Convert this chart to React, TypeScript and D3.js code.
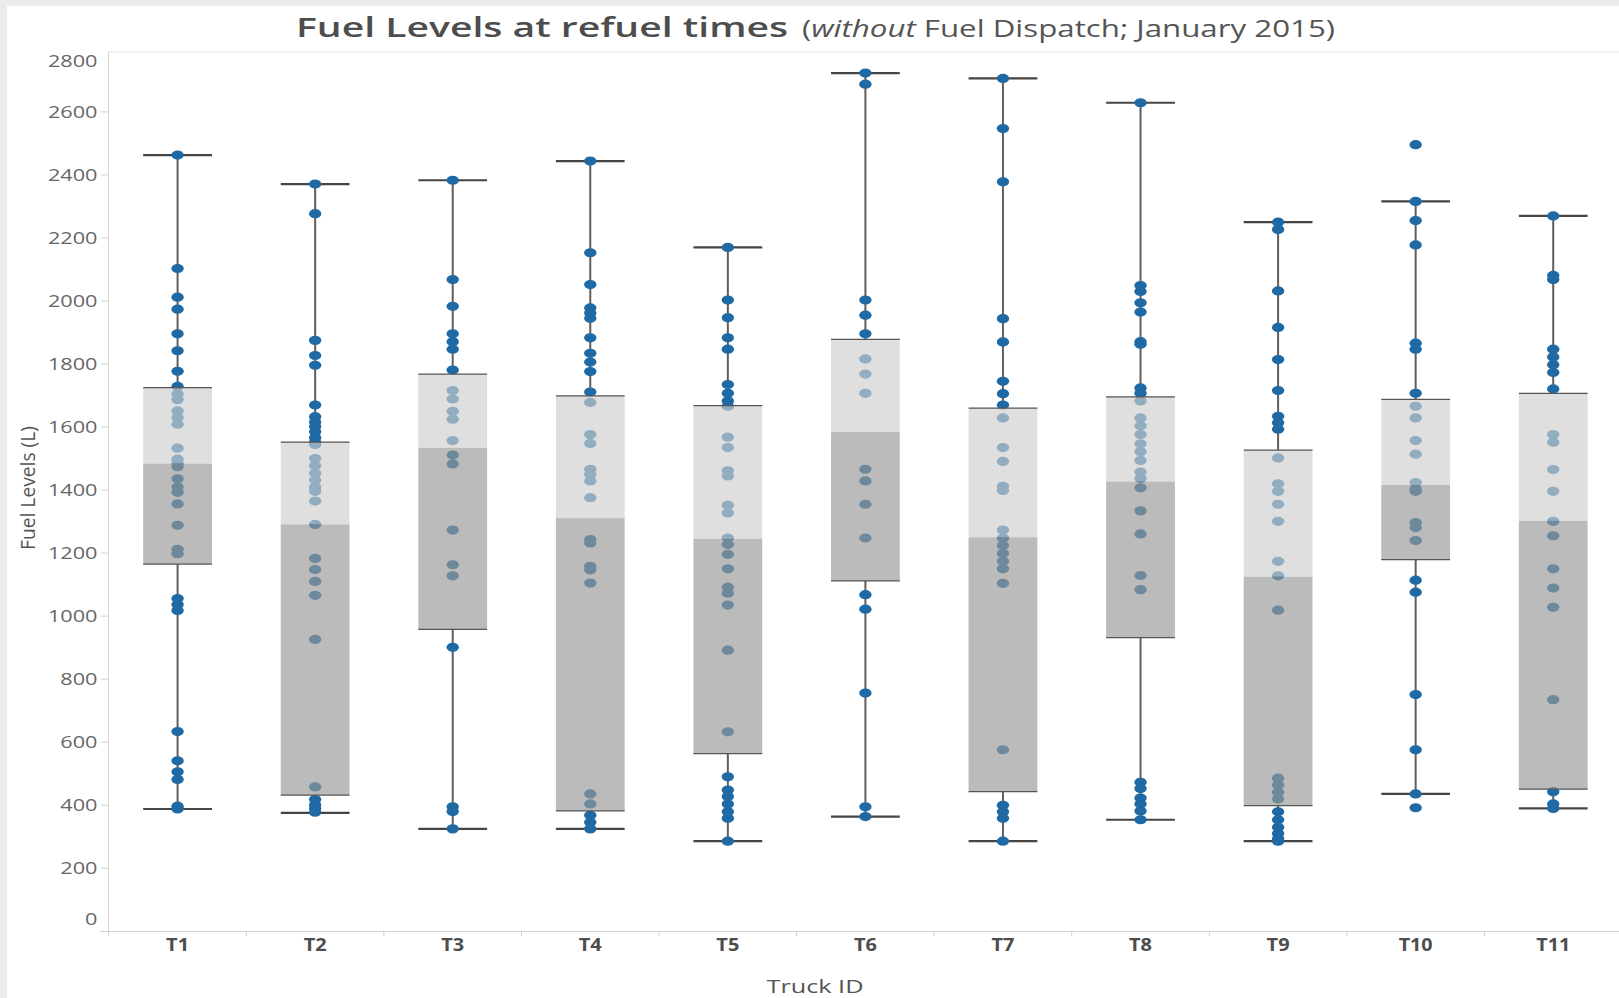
import { useEffect, useRef } from 'react';
import * as d3 from 'd3';

const trucks = ['T1', 'T2', 'T3', 'T4', 'T5', 'T6', 'T7', 'T8', 'T9', 'T10', 'T11'];

// box plot stats (litres)
const whiskerLow = [388, 376, 325, 325, 286, 364, 286, 354, 286, 436, 390];
const lowerQuartile = [1165, 432, 958, 382, 564, 1112, 443, 932, 399, 1179, 451];
const medians = [1484, 1291, 1534, 1311, 1245, 1584, 1250, 1427, 1125, 1416, 1302];
const upperQuartile = [1725, 1552, 1768, 1699, 1668, 1878, 1660, 1696, 1527, 1688, 1707];
const whiskerHigh = [2463, 2371, 2383, 2444, 2170, 2723, 2706, 2629, 2250, 2316, 2270];

// fuel level at each refuel, per truck
const levelsT1 = [2463, 2103, 2012, 1974, 1896, 1842, 1777, 1729, 1705, 1687, 1651, 1630, 1609, 1533, 1498, 1484, 1474, 1436, 1410, 1393, 1356, 1288, 1212, 1198, 1056, 1037, 1018, 634, 541, 506, 482, 397, 388];
const levelsT2 = [2371, 2277, 1875, 1827, 1796, 1670, 1633, 1616, 1602, 1585, 1566, 1552, 1545, 1500, 1477, 1453, 1432, 1410, 1396, 1365, 1291, 1183, 1148, 1110, 1066, 926, 458, 418, 401, 390, 378];
const levelsT3 = [2383, 2068, 1983, 1896, 1871, 1847, 1781, 1716, 1689, 1650, 1625, 1557, 1511, 1483, 1273, 1163, 1128, 901, 395, 380, 325];
const levelsT4 = [2444, 2153, 2052, 1978, 1962, 1945, 1883, 1834, 1806, 1776, 1711, 1678, 1576, 1548, 1466, 1450, 1429, 1376, 1243, 1232, 1158, 1147, 1105, 436, 404, 368, 346, 325];
const levelsT5 = [2170, 2003, 1947, 1883, 1847, 1735, 1707, 1683, 1666, 1568, 1535, 1461, 1445, 1352, 1327, 1248, 1227, 1196, 1150, 1092, 1073, 1035, 892, 633, 490, 448, 428, 404, 379, 359, 286];
const levelsT6 = [2723, 2688, 2003, 1955, 1896, 1816, 1768, 1707, 1466, 1429, 1355, 1248, 1068, 1022, 756, 395, 364];
const levelsT7 = [2706, 2547, 2378, 1944, 1870, 1745, 1706, 1670, 1629, 1535, 1491, 1412, 1399, 1273, 1248, 1224, 1199, 1174, 1150, 1104, 576, 400, 379, 359, 286];
const levelsT8 = [2629, 2049, 2030, 1994, 1965, 1871, 1863, 1724, 1707, 1683, 1629, 1604, 1576, 1547, 1522, 1494, 1457, 1437, 1407, 1334, 1261, 1129, 1084, 473, 453, 423, 404, 382, 354];
const levelsT9 = [2250, 2227, 2032, 1916, 1814, 1716, 1634, 1614, 1593, 1502, 1420, 1396, 1355, 1301, 1174, 1128, 1019, 486, 464, 441, 420, 379, 354, 330, 310, 294, 286];
const levelsT10 = [2496, 2316, 2255, 2178, 1866, 1847, 1707, 1666, 1629, 1557, 1514, 1424, 1404, 1396, 1297, 1281, 1240, 1114, 1076, 751, 576, 436, 392];
const levelsT11 = [2270, 2081, 2068, 1847, 1822, 1798, 1773, 1721, 1576, 1552, 1465, 1396, 1301, 1255, 1150, 1089, 1028, 735, 443, 404, 390];

const yTicks = [0, 200, 400, 600, 800, 1000, 1200, 1400, 1600, 1800, 2000, 2200, 2400, 2600, 2800];

const W = 1619;
const H = 998;
const FONT = "'Open Sans', 'DejaVu Sans', sans-serif";

export default function App() {
  const svgRef = useRef<SVGSVGElement>(null);

  useEffect(() => {
    const svg = d3.select(svgRef.current);
    svg.selectAll('*').remove();

    const levels = [levelsT1, levelsT2, levelsT3, levelsT4, levelsT5, levelsT6, levelsT7, levelsT8, levelsT9, levelsT10, levelsT11];
    const stats = trucks.map((t, i) => ({
      truck: t,
      lo: whiskerLow[i],
      q1: lowerQuartile[i],
      med: medians[i],
      q3: upperQuartile[i],
      hi: whiskerHigh[i],
    }));
    const points = trucks.flatMap((t, i) => levels[i].map(v => ({ truck: t, v })));

    const x = d3.scaleBand().domain(trucks).range([108.8, 1622]);
    const y = d3.scaleLinear().domain([0, 2790]).range([931.3, 52]);
    const bw = x.bandwidth();
    const boxW = bw * 0.5;
    const cx = (t: string) => (x(t) as number) + bw / 2;

    // outer frame
    svg.append('rect').attr('width', W).attr('height', H).attr('fill', '#ebebeb');
    svg.append('rect').attr('x', 7).attr('y', 6).attr('width', W - 7).attr('height', H - 6).attr('fill', '#fff');

    // title
    svg.append('text')
      .attr('x', 296).attr('y', 37)
      .attr('font-family', FONT).attr('font-size', 27).attr('font-weight', 600)
      .attr('fill', '#4d4d4d')
      .attr('textLength', 492).attr('lengthAdjust', 'spacingAndGlyphs')
      .text('Fuel Levels at refuel times');
    const sub = svg.append('text')
      .attr('x', 802).attr('y', 37)
      .attr('font-family', FONT).attr('font-size', 23)
      .attr('fill', '#555')
      .attr('textLength', 533).attr('lengthAdjust', 'spacingAndGlyphs');
    sub.append('tspan').text('(');
    sub.append('tspan').attr('font-style', 'italic').text('without');
    sub.append('tspan').text(' Fuel Dispatch; January 2015)');

    // plot frame lines
    svg.append('line').attr('x1', 108).attr('x2', W).attr('y1', 52).attr('y2', 52)
      .attr('stroke', '#e2e2e2').attr('stroke-width', 1);
    svg.append('line').attr('x1', 108.5).attr('x2', 108.5).attr('y1', 52).attr('y2', 931.5)
      .attr('stroke', '#d4d4d4').attr('stroke-width', 1);
    svg.append('line').attr('x1', 100).attr('x2', W).attr('y1', 931.5).attr('y2', 931.5)
      .attr('stroke', '#d4d4d4').attr('stroke-width', 1);

    // y ticks + labels
    svg.append('g').selectAll('line')
      .data(yTicks.filter(v => v > 0 && v < 2800))
      .join('line')
      .attr('x1', 101).attr('x2', 108)
      .attr('y1', d => y(d)).attr('y2', d => y(d))
      .attr('stroke', '#d0d0d0');
    svg.append('g').selectAll('text')
      .data(yTicks)
      .join('text')
      .attr('x', 97.5)
      .attr('y', d => y(d) + 6 + (d === 0 ? -12 : d === 2800 ? 12.4 : 0))
      .attr('text-anchor', 'end')
      .attr('font-family', FONT).attr('font-size', 17)
      .attr('fill', '#666')
      .attr('textLength', d => String(d).length * 12.4)
      .attr('lengthAdjust', 'spacingAndGlyphs')
      .text(d => d);

    // y axis title
    svg.append('text')
      .attr('transform', 'translate(35,488) rotate(-90)')
      .attr('text-anchor', 'middle')
      .attr('font-family', FONT).attr('font-size', 20)
      .attr('fill', '#555')
      .attr('textLength', 124).attr('lengthAdjust', 'spacingAndGlyphs')
      .text('Fuel Levels (L)');

    // x ticks at band edges + labels
    svg.append('g').selectAll('line')
      .data(trucks)
      .join('line')
      .attr('x1', d => x(d) as number).attr('x2', d => x(d) as number)
      .attr('y1', 931.5).attr('y2', 936)
      .attr('stroke', '#d0d0d0');
    svg.append('g').selectAll('text')
      .data(trucks)
      .join('text')
      .attr('x', d => cx(d))
      .attr('y', 951)
      .attr('text-anchor', 'middle')
      .attr('font-family', FONT).attr('font-size', 17).attr('font-weight', 'bold')
      .attr('fill', '#4d4d4d')
      .attr('textLength', d => (d.length > 2 ? 34 : 23))
      .attr('lengthAdjust', 'spacingAndGlyphs')
      .text(d => d);

    svg.append('text')
      .attr('x', 815).attr('y', 993)
      .attr('text-anchor', 'middle')
      .attr('font-family', FONT).attr('font-size', 19)
      .attr('fill', '#555')
      .attr('textLength', 97).attr('lengthAdjust', 'spacingAndGlyphs')
      .text('Truck ID');

    const g = svg.append('g');

    // whiskers
    g.selectAll('.whisker-hi')
      .data(stats)
      .join('line')
      .attr('x1', d => cx(d.truck)).attr('x2', d => cx(d.truck))
      .attr('y1', d => y(d.hi)).attr('y2', d => y(d.q3))
      .attr('stroke', '#5e5e5e').attr('stroke-width', 2);
    g.selectAll('.whisker-lo')
      .data(stats)
      .join('line')
      .attr('x1', d => cx(d.truck)).attr('x2', d => cx(d.truck))
      .attr('y1', d => y(d.q1)).attr('y2', d => y(d.lo))
      .attr('stroke', '#5e5e5e').attr('stroke-width', 2);
    ['hi', 'lo'].forEach(k => {
      g.append('g').selectAll('line')
        .data(stats)
        .join('line')
        .attr('x1', d => cx(d.truck) - boxW / 2).attr('x2', d => cx(d.truck) + boxW / 2)
        .attr('y1', d => y(d[k])).attr('y2', d => y(d[k]))
        .attr('stroke', '#454545').attr('stroke-width', 2.2);
    });

    // refuel points
    g.append('g').selectAll('ellipse')
      .data(points)
      .join('ellipse')
      .attr('cx', d => cx(d.truck))
      .attr('cy', d => y(d.v))
      .attr('rx', 6.2).attr('ry', 4.6)
      .attr('fill', '#1f6aa5');

    // boxes drawn over the points, semi transparent
    g.append('g').selectAll('rect')
      .data(stats)
      .join('rect')
      .attr('x', d => cx(d.truck) - boxW / 2)
      .attr('width', boxW)
      .attr('y', d => y(d.q3))
      .attr('height', d => y(d.med) - y(d.q3))
      .attr('fill', '#cfcfcf').attr('fill-opacity', 0.66);
    g.append('g').selectAll('rect')
      .data(stats)
      .join('rect')
      .attr('x', d => cx(d.truck) - boxW / 2)
      .attr('width', boxW)
      .attr('y', d => y(d.med))
      .attr('height', d => y(d.q1) - y(d.med))
      .attr('fill', '#989898').attr('fill-opacity', 0.66);
    ['q3', 'q1'].forEach(k => {
      g.append('g').selectAll('line')
        .data(stats)
        .join('line')
        .attr('x1', d => cx(d.truck) - boxW / 2).attr('x2', d => cx(d.truck) + boxW / 2)
        .attr('y1', d => y(d[k])).attr('y2', d => y(d[k]))
        .attr('stroke', '#555').attr('stroke-width', 1.2);
    });
  }, []);

  return (
    <svg
      ref={svgRef}
      width={W}
      height={H}
      style={{ position: 'absolute', left: 0, top: 0, display: 'block' }}
    />
  );
}
